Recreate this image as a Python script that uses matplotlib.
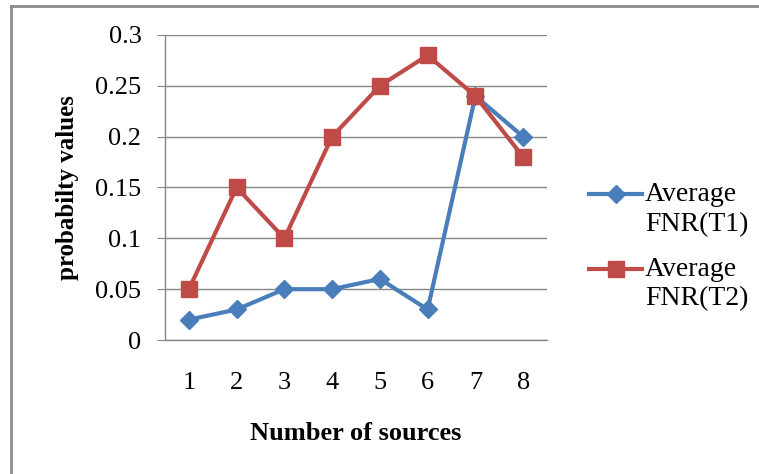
import matplotlib.pyplot as plt
from matplotlib.lines import Line2D
from matplotlib.legend_handler import HandlerLine2D

plt.rcParams['font.family'] = ['Liberation Serif', 'DejaVu Serif']

sources = [1, 2, 3, 4, 5, 6, 7, 8]
fnr_t1 = [0.02, 0.03, 0.05, 0.05, 0.06, 0.03, 0.24, 0.20]
fnr_t2 = [0.05, 0.15, 0.10, 0.20, 0.25, 0.28, 0.24, 0.18]
yticks = [0, 0.05, 0.1, 0.15, 0.2, 0.25, 0.3]
ytick_labels = ['0', '0.05', '0.1', '0.15', '0.2', '0.25', '0.3']

blue = '#4A7EBB'
red = '#BE4B48'
grid = '#868686'


class RaisedHandler(HandlerLine2D):
    # put the legend marker next to the first text line, like Excel does
    def create_artists(self, legend, orig_handle, xdescent, ydescent,
                       width, height, fontsize, trans):
        arts = super().create_artists(legend, orig_handle, xdescent, ydescent,
                                      width, height, fontsize, trans)
        for a in arts:
            a.set_ydata([y + 11 for y in a.get_ydata()])
        return arts


fig = plt.figure(figsize=(7.59, 4.74), dpi=100)
ax = fig.add_axes([0.2174, 0.2827, 0.5033, 0.6435])

ax.plot(sources, fnr_t1, color=blue, lw=3, marker='D', ms=9,
        markerfacecolor=blue, markeredgecolor=blue, label='Average\nFNR(T1)', zorder=3)
ax.plot(sources, fnr_t2, color=red, lw=3, marker='s', ms=11,
        markerfacecolor=red, markeredgecolor=red, label='Average\nFNR(T2)', zorder=4)

ax.set_xlim(0.5, 8.5)
ax.set_ylim(0, 0.3)
ax.set_xticks(sources)
ax.set_yticks(yticks)
ax.set_yticklabels(ytick_labels)
ax.yaxis.grid(True, color=grid, lw=1)
ax.set_axisbelow(True)
for s in ['top', 'right']:
    ax.spines[s].set_visible(False)
for s in ['left', 'bottom']:
    ax.spines[s].set_color(grid)
    ax.spines[s].set_linewidth(1)
ax.tick_params(axis='y', length=6, color=grid, labelsize=19, pad=11)
ax.tick_params(axis='x', length=0, labelsize=19, pad=23)

ax.set_xlabel('Number of sources', fontsize=19, fontweight='bold', labelpad=20)
ax.set_ylabel('probabilty values', fontsize=18, fontweight='bold', labelpad=12)

leg = ax.legend(loc='center left', bbox_to_anchor=(1.045, 0.305), frameon=False,
                fontsize=20, handlelength=1.9, labelspacing=0.7, handletextpad=0.1,
                handler_map={Line2D: RaisedHandler()})
for t in leg.get_texts():
    t.set_linespacing(1.25)

# outer chart border (partially cropped in original)
fig.add_artist(Line2D([11 / 759, 11 / 759], [0, 1 - 6 / 474], color='#8c8c8c', lw=2,
                      transform=fig.transFigure))
fig.add_artist(Line2D([11 / 759, 1], [1 - 6 / 474, 1 - 6 / 474], color='#8c8c8c', lw=2,
                      transform=fig.transFigure))

fig.savefig('out.png', dpi=100)
